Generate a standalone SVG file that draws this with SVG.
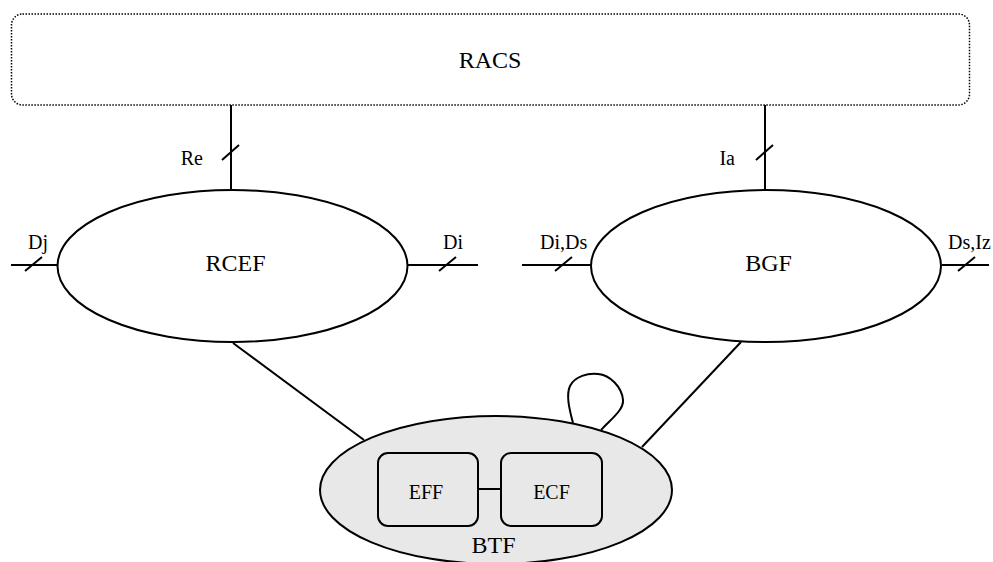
<svg xmlns="http://www.w3.org/2000/svg" width="993" height="562" viewBox="0 0 993 562">
<style>
.ln{stroke:#000;stroke-width:2;fill:none}
.big{font-family:"Liberation Serif",serif;font-size:24px;fill:#000}
.lbl{font-family:"Liberation Serif",serif;font-size:20px;fill:#000}
.box{font-family:"Liberation Serif",serif;font-size:20px;fill:#000;text-anchor:middle}
</style>
<rect width="993" height="562" fill="#fff"/>
<g id="connectors">
<line class="ln" x1="231" y1="105" x2="231" y2="190"/>
<line class="ln" x1="222" y1="160" x2="239" y2="145"/>
<line class="ln" x1="765" y1="105" x2="765" y2="190"/>
<line class="ln" x1="756" y1="160" x2="773" y2="145"/>
<line class="ln" x1="11" y1="265" x2="57" y2="265"/>
<line class="ln" x1="25" y1="271" x2="42" y2="257"/>
<line class="ln" x1="408" y1="265" x2="478" y2="265"/>
<line class="ln" x1="439" y1="271" x2="456" y2="257"/>
<line class="ln" x1="522" y1="265" x2="591" y2="265"/>
<line class="ln" x1="555" y1="271" x2="572" y2="257"/>
<line class="ln" x1="942" y1="265" x2="989" y2="265"/>
<line class="ln" x1="958" y1="271" x2="975" y2="257"/>
<line class="ln" x1="233" y1="343" x2="364" y2="440"/>
<line class="ln" x1="741" y1="342" x2="642" y2="447"/>
</g>
<g id="RACS">
<rect x="11.5" y="14" width="958" height="91" rx="11" ry="11" fill="#fff" stroke="#000" stroke-width="1.5" stroke-dasharray="1.5 1.5"/>
<text class="big" x="490" y="68" text-anchor="middle">RACS</text>
</g>
<g id="RCEF">
<ellipse class="ln" cx="232.5" cy="266" rx="175" ry="76" fill="#fff"/>
<text class="big" x="235.5" y="271" text-anchor="middle">RCEF</text>
</g>
<g id="BGF">
<ellipse class="ln" cx="766" cy="266" rx="175" ry="76" fill="#fff"/>
<text class="big" x="768.5" y="271" text-anchor="middle">BGF</text>
</g>
<g id="labels">
<text class="lbl" x="203" y="165" text-anchor="end">Re</text>
<text class="lbl" x="735" y="165" text-anchor="end">Ia</text>
<text class="lbl" x="28" y="249">Dj</text>
<text class="lbl" x="443" y="249">Di</text>
<text class="lbl" x="540" y="249">Di,Ds</text>
<text class="lbl" x="948" y="249">Ds,Iz</text>
</g>
<g id="BTF">
<ellipse cx="496" cy="490" rx="176" ry="74" fill="#e8e8e8" stroke="#000" stroke-width="2"/>
<path class="ln" d="M573,423 C569,408 566,395 570,386 C575,376 588,373 598,374 C610,375 622,387 623,400 C624,410 610,420 601,430"/>
<text class="big" x="493.5" y="553" text-anchor="middle">BTF</text>
</g>
<g id="EFF">
<rect x="378" y="453" width="100" height="73" rx="10" ry="10" fill="#e8e8e8" stroke="#000" stroke-width="2"/>
<text class="box" x="426" y="499">EFF</text>
</g>
<g id="ECF">
<rect x="501" y="453" width="101" height="73" rx="10" ry="10" fill="#e8e8e8" stroke="#000" stroke-width="2"/>
<text class="box" x="551.5" y="499">ECF</text>
</g>
<g id="links">
<line class="ln" x1="478" y1="489" x2="501" y2="489"/>
</g>
</svg>
